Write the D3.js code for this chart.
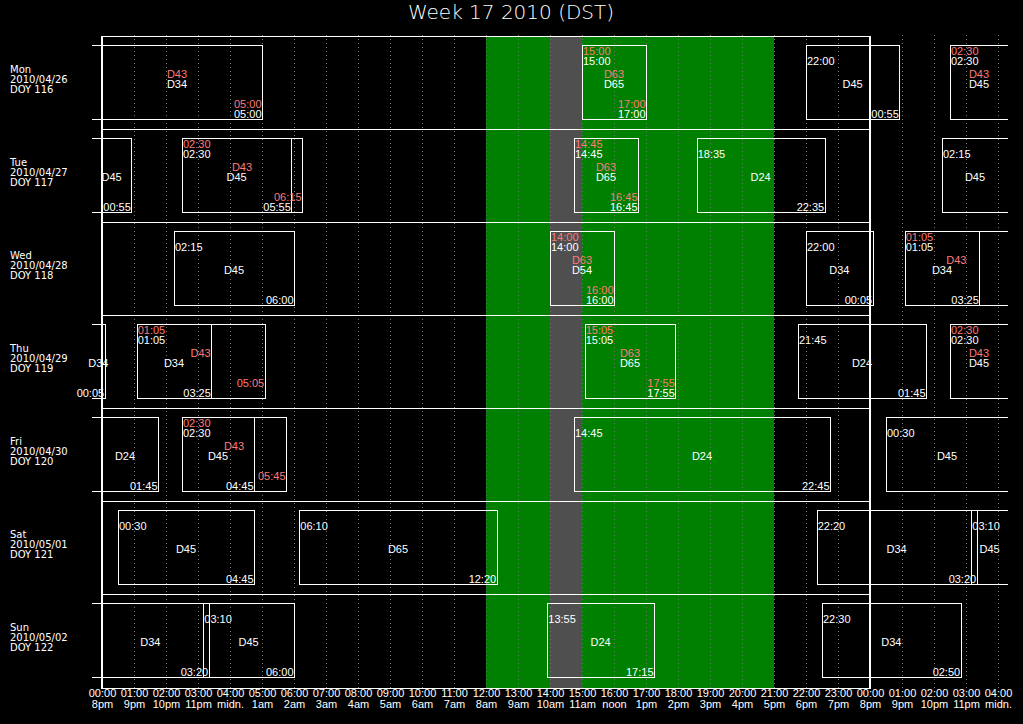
<!DOCTYPE html>
<html><head><meta charset="utf-8">
<script src="https://cdn.jsdelivr.net/npm/d3@7"></script>
<style>html,body{margin:0;padding:0;background:#000;overflow:hidden} svg{display:block}</style>
</head><body>
<script>
// ---------------- data ----------------
const chartTitle = "Week 17 2010 (DST)";
const dayNames = ["Mon","Tue","Wed","Thu","Fri","Sat","Sun"];
const dayDates = ["2010/04/26","2010/04/27","2010/04/28","2010/04/29","2010/04/30","2010/05/01","2010/05/02"];
const dayDoy = ["DOY 116","DOY 117","DOY 118","DOY 119","DOY 120","DOY 121","DOY 122"];
const utcTicks = ["00:00","01:00","02:00","03:00","04:00","05:00","06:00","07:00","08:00","09:00","10:00","11:00",
  "12:00","13:00","14:00","15:00","16:00","17:00","18:00","19:00","20:00","21:00","22:00","23:00",
  "00:00","01:00","02:00","03:00","04:00"];
const localTicks = ["8pm","9pm","10pm","11pm","midn.","1am","2am","3am","4am","5am","6am","7am",
  "8am","9am","10am","11am","noon","1pm","2pm","3pm","4pm","5pm","6pm","7pm",
  "8pm","9pm","10pm","11pm","midn."];
const workBand = [12, 21];   // UTC hours
const grayBand = [14, 15];
// passes: [day index (0 = Mon), start, end, station]
const whitePasses = [
  [-1,"22:30","05:00","D34"],
  [0,"15:00","17:00","D65"],
  [0,"22:00","00:55","D45"],
  [1,"02:30","05:55","D45"],
  [1,"14:45","16:45","D65"],
  [1,"18:35","22:35","D24"],
  [2,"02:15","06:00","D45"],
  [2,"14:00","16:00","D54"],
  [2,"22:00","00:05","D34"],
  [3,"01:05","03:25","D34"],
  [3,"15:05","17:55","D65"],
  [3,"21:45","01:45","D24"],
  [4,"02:30","04:45","D45"],
  [4,"14:45","22:45","D24"],
  [5,"00:30","04:45","D45"],
  [5,"06:10","12:20","D65"],
  [5,"22:20","03:20","D34"],
  [6,"03:10","06:00","D45"],
  [6,"13:55","17:15","D24"],
  [6,"22:30","02:50","D34"]
];
const redPasses = [
  [-1,"22:30","05:00","D43"],
  [0,"15:00","17:00","D63"],
  [1,"02:30","06:15","D43"],
  [1,"14:45","16:45","D63"],
  [2,"14:00","16:00","D63"],
  [3,"01:05","05:05","D43"],
  [3,"15:05","17:55","D63"],
  [4,"02:30","05:45","D43"]
];

// ---------------- layout ----------------
const W = 1023, H = 724;
const plotTop = 37, rowH = 93, nRows = 7;
const plotBottom = plotTop + rowH * nRows; // 688
const x = d3.scaleLinear().domain([0, 28]).range([102, 998]);
const y = d3.scaleLinear().domain([0, nRows]).range([plotTop, plotBottom]);
const pad = 10;
const RED = "#ff7a7a";
const boxFont = "'Liberation Sans', Arial, sans-serif";

const svg = d3.select("body").append("svg").attr("width", W).attr("height", H);
svg.append("rect").attr("width", W).attr("height", H).attr("fill", "#000");

svg.append("text").attr("x", 511).attr("y", 18.5).attr("text-anchor", "middle")
  .attr("fill", "#fff").style("font-family", "'DejaVu Sans', sans-serif").style("font-size", "20px")
  .style("font-weight", 300).text(chartTitle);

// bands
svg.append("rect").attr("x", x(workBand[0])).attr("y", plotTop)
  .attr("width", x(workBand[1]) - x(workBand[0])).attr("height", plotBottom - plotTop).attr("fill", "#008000");
svg.append("rect").attr("x", x(grayBand[0])).attr("y", plotTop)
  .attr("width", x(grayBand[1]) - x(grayBand[0])).attr("height", plotBottom - plotTop).attr("fill", "#4f4f4f");

// dotted hour grid
svg.append("g").selectAll("line").data(d3.range(1, 29).filter(h => h !== 24)).join("line")
  .attr("x1", d => Math.round(x(d)) + 0.5).attr("x2", d => Math.round(x(d)) + 0.5)
  .attr("y1", 35).attr("y2", plotBottom)
  .attr("stroke", "#727272").attr("stroke-width", 1).attr("stroke-dasharray", "1,3");

// frame
const frame = svg.append("g").attr("stroke", "#fff").attr("shape-rendering", "crispEdges");
frame.append("line").attr("x1", x(0)).attr("x2", x(24)).attr("y1", plotTop - 0.5).attr("y2", plotTop - 0.5);
frame.append("line").attr("x1", x(0)).attr("x2", x(24)).attr("y1", plotBottom + 0.5).attr("y2", plotBottom + 0.5);
frame.selectAll(".sep").data(d3.range(1, nRows)).join("line").attr("class", "sep")
  .attr("x1", x(0)).attr("x2", x(24)).attr("y1", d => y(d) - 0.5).attr("y2", d => y(d) - 0.5);

// row labels
const rl = svg.append("g").attr("fill", "#fff").style("font-family", "'DejaVu Sans', sans-serif").style("font-size", "10px");
dayNames.forEach((n, i) => {
  const t = rl.append("text").attr("x", 10).attr("y", y(i) + 36);
  t.append("tspan").attr("x", 10).text(n);
  t.append("tspan").attr("x", 10).attr("dy", 10).text(dayDates[i]);
  t.append("tspan").attr("x", 10).attr("dy", 10).text(dayDoy[i]);
});

// passes
function hrs(s) { const [h, m] = s.split(":").map(Number); return h + m / 60; }
function absPass(p) {
  const s = p[0] * 24 + hrs(p[1]);
  let e = p[0] * 24 + hrs(p[2]);
  if (e <= s) e += 24;
  return { s, e, start: p[1], end: p[2], st: p[3] };
}
const whiteAbs = whitePasses.map(absPass);
const redAbs = redPasses.map(absPass);

const boxes = svg.append("g").attr("stroke", "#fff").attr("fill", "none").attr("shape-rendering", "crispEdges");
const labels = svg.append("g").style("font-family", boxFont).style("font-size", "11px");

function drawSeries(list, color, line) {
  for (let d = 0; d < nRows; d++) {
    const w0 = 24 * d, w1 = 24 * d + 28;
    const T = y(d) + 8, B = y(d) + 82;
    list.filter(p => p.e > w0 && p.s < w1).forEach(p => {
      const leftIn = p.s >= w0, rightIn = p.e <= w1;
      const x0 = leftIn ? x(p.s - w0) : x(0) - pad;
      const x1 = rightIn ? x(p.e - w0) : x(28) + pad;
      const path = d3.path();
      path.moveTo(x0, T + 0.5); path.lineTo(x1, T + 0.5);
      path.moveTo(x0, B + 0.5); path.lineTo(x1, B + 0.5);
      if (leftIn) { path.moveTo(x0 + 0.5, T); path.lineTo(x0 + 0.5, B + 1); }
      if (rightIn) { path.moveTo(x1 + 0.5, T); path.lineTo(x1 + 0.5, B + 1); }
      boxes.append("path").attr("d", path.toString());
      if (leftIn) labels.append("text").attr("x", x0 + 1).attr("y", T + 10 + line * 10).attr("fill", color).text(p.start);
      labels.append("text").attr("x", (x0 + x1) / 2).attr("y", T + 33 + line * 10).attr("text-anchor", "middle").attr("fill", color).text(p.st);
      if (rightIn) labels.append("text").attr("x", x1 - 0.5).attr("y", T + 62.5 + line * 10).attr("text-anchor", "end").attr("fill", color).text(p.end);
    });
  }
}
drawSeries(redAbs, RED, 0);
drawSeries(whiteAbs, "#fff", 1);

// vertical frame lines on top
frame.append("line").attr("x1", x(0)).attr("x2", x(0)).attr("y1", plotTop - 1).attr("y2", plotBottom + 1).attr("stroke-width", 2);
frame.append("line").attr("x1", x(24)).attr("x2", x(24)).attr("y1", plotTop - 1).attr("y2", plotBottom + 1).attr("stroke-width", 2);
frame.raise();

// axis
const axis = d3.axisBottom(x).tickValues(d3.range(0, 29)).tickSize(0).tickPadding(1.5)
  .tickFormat(d => utcTicks[d]);
const ag = svg.append("g").attr("transform", `translate(0,${plotBottom})`).call(axis);
ag.select(".domain").remove();
ag.selectAll(".tick text").attr("fill", "#fff").style("font-family", boxFont).style("font-size", "11px");
ag.selectAll(".tick").append("text").attr("y", 1.5).attr("dy", "1.71em").attr("fill", "#fff")
  .style("font-family", boxFont).style("font-size", "11px").text(d => localTicks[d]);
</script>
</body></html>
